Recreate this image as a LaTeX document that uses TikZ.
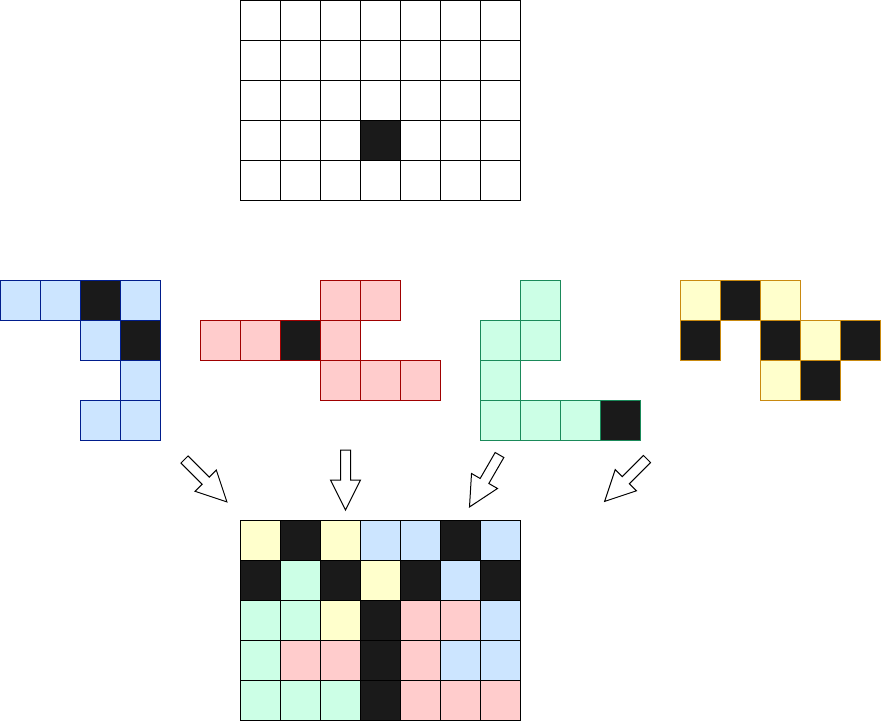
\documentclass[tikz,border=0pt]{standalone}
\definecolor{cb}{HTML}{CCE5FF}
\definecolor{bline}{HTML}{001D8C}
\definecolor{cr}{HTML}{FFCCCC}
\definecolor{rline}{HTML}{A00000}
\definecolor{cg}{HTML}{CCFFE6}
\definecolor{gline}{HTML}{1A8A5A}
\definecolor{cy}{HTML}{FFFFCC}
\definecolor{yline}{HTML}{C98A10}
\definecolor{ck}{HTML}{1A1A1A}
\begin{document}
\begin{tikzpicture}[x=1pt,y=-1pt,
  cell/.style={draw, line width=1pt, minimum size=40pt, inner sep=0pt, outer sep=0pt, anchor=north west},
  blockarrow/.pic={\draw[line width=1pt, fill=white, line join=miter]
     (0,-5) -- (30,-5) -- (30,-15) -- (60,0) -- (30,15) -- (30,5) -- (0,5) -- cycle;}]
\useasboundingbox (0,0) rectangle (881,721);
% top grid
\foreach \c in {0,...,6}
  \foreach \r in {0,...,4}
    \node[cell, fill=white] (t-\r-\c) at (240+40*\c, 40*\r) {};
\node[cell, fill=ck] (tk) at (360,120) {};
% blue piece
\foreach \x/\y/\f [count=\i] in {0/280/cb,40/280/cb,80/280/ck,120/280/cb,80/320/cb,120/320/ck,120/360/cb,80/400/cb,120/400/cb}
  \node[cell, draw=bline, fill=\f] (blue-\i) at (\x,\y) {};
% red piece
\foreach \x/\y/\f [count=\i] in {320/280/cr,360/280/cr,200/320/cr,240/320/cr,280/320/ck,320/320/cr,320/360/cr,360/360/cr,400/360/cr}
  \node[cell, draw=rline, fill=\f] (red-\i) at (\x,\y) {};
% green piece
\foreach \x/\y/\f [count=\i] in {520/280/cg,480/320/cg,520/320/cg,480/360/cg,480/400/cg,520/400/cg,560/400/cg,600/400/ck}
  \node[cell, draw=gline, fill=\f] (green-\i) at (\x,\y) {};
% yellow piece
\foreach \x/\y/\f [count=\i] in {680/280/cy,720/280/ck,760/280/cy,680/320/ck,760/320/ck,800/320/cy,840/320/ck,760/360/cy,800/360/ck}
  \node[cell, draw=yline, fill=\f] (yellow-\i) at (\x,\y) {};
% bottom grid
\foreach \c/\r/\f in {
  0/0/cy,1/0/ck,2/0/cy,3/0/cb,4/0/cb,5/0/ck,6/0/cb,
  0/1/ck,1/1/cg,2/1/ck,3/1/cy,4/1/ck,5/1/cb,6/1/ck,
  0/2/cg,1/2/cg,2/2/cy,3/2/ck,4/2/cr,5/2/cr,6/2/cb,
  0/3/cg,1/3/cr,2/3/cr,3/3/ck,4/3/cr,5/3/cb,6/3/cb,
  0/4/cg,1/4/cg,2/4/cg,3/4/ck,4/4/cr,5/4/cr,6/4/cr}
  \node[cell, fill=\f] (b-\r-\c) at (240+40*\c, 520+40*\r) {};
% arrows
\pic[rotate=-45] (a1) at (184.5,459.5) {blockarrow};
\pic[rotate=-90] (a2) at (345.5,450) {blockarrow};
\pic[rotate=-120] (a3) at (499.5,455) {blockarrow};
\pic[rotate=-135] (a4) at (647,459) {blockarrow};
\end{tikzpicture}
\end{document}
